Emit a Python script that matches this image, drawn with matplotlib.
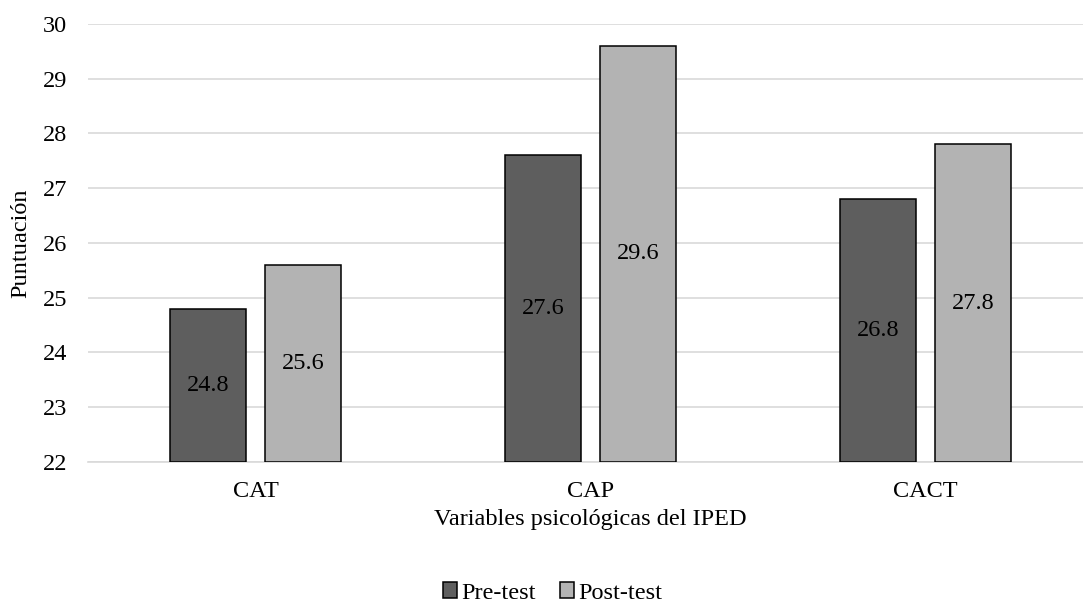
import matplotlib.pyplot as plt
import numpy as np

categories = ['CAT', 'CAP', 'CACT']
pre_test = [24.8, 27.6, 26.8]
post_test = [25.6, 29.6, 27.8]
series_names = ['Pre-test', 'Post-test']
y_ticks = list(range(22, 31))

plt.rcParams['font.family'] = ['Liberation Serif', 'DejaVu Serif']

fig = plt.figure(figsize=(10.83, 6.04), dpi=100)
ax = fig.add_axes([0.0813, 0.2356, 0.928, 0.7246])

x = np.arange(len(categories))
width = 0.228
offset = 0.142
base = 22
fs = 17.5

colors = ['#5e5e5e', '#b3b3b3']
for vals, off, col, name in zip([pre_test, post_test], [-offset, offset], colors, series_names):
    heights = [v - base for v in vals]
    bars = ax.bar(x + off, heights, width, bottom=base, color=col,
                  edgecolor='black', linewidth=1.1, label=name, zorder=3)
    for b, v in zip(bars, vals):
        ax.text(b.get_x() + b.get_width() / 2, base + (v - base) / 2, f'{v:.1f}',
                ha='center', va='center', fontsize=fs, color='black', zorder=4)

ax.set_xlim(-0.5, 2.5)
ax.set_ylim(22, 30)
ax.set_yticks(y_ticks)
ax.set_xticks(x)
ax.set_xticklabels(categories)
ax.tick_params(axis='both', length=0, labelsize=fs, colors='black')
ax.tick_params(axis='y', pad=15)
ax.tick_params(axis='x', pad=14)
ax.grid(axis='y', color='#d9d9d9', linewidth=1.2, zorder=0)
for s in ['top', 'right', 'left']:
    ax.spines[s].set_visible(False)
ax.spines['bottom'].set_color('#d9d9d9')
ax.spines['bottom'].set_linewidth(1.2)

ax.set_xlabel('Variables psicológicas del IPED', fontsize=fs, labelpad=5)
ax.set_ylabel('Puntuación', fontsize=fs, labelpad=8)

handles, labels = ax.get_legend_handles_labels()
fig.legend(handles, labels, loc='center', bbox_to_anchor=(0.51, 0.018), ncol=2,
           frameon=False, fontsize=fs, handlelength=0.6, handleheight=0.6,
           handletextpad=0.15, columnspacing=1.0)

fig.savefig('out.png', dpi=100)
